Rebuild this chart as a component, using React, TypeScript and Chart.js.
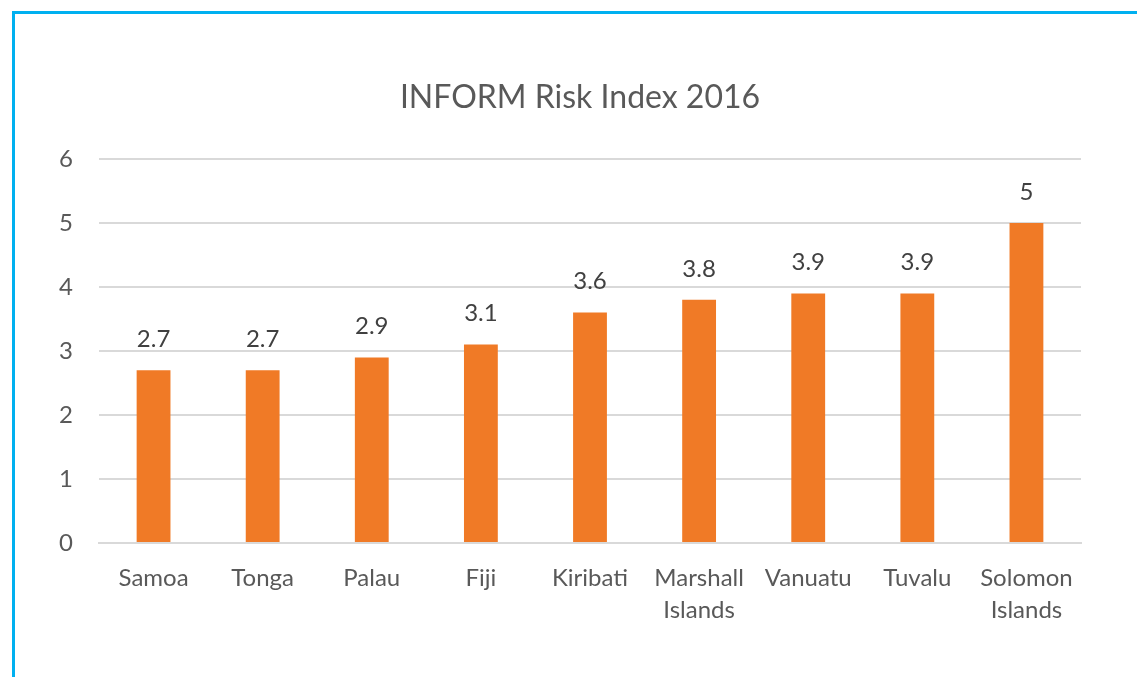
import React, { useEffect, useRef } from "react";
import { Chart, registerables } from "chart.js";

Chart.register(...registerables);

const categories: (string | string[])[] = [
  "Samoa",
  "Tonga",
  "Palau",
  "Fiji",
  "Kiribati",
  ["Marshall", "Islands"],
  "Vanuatu",
  "Tuvalu",
  ["Solomon", "Islands"],
];
const riskValues = [2.7, 2.7, 2.9, 3.1, 3.6, 3.8, 3.9, 3.9, 5];
const yTicks = [0, 1, 2, 3, 4, 5, 6];
const chartTitle = "INFORM Risk Index 2016";

const FONT = "Lato, 'Open Sans', sans-serif";
const TEXT = "#595959";
const LABEL_TEXT = "#404040";

const titlePlugin = {
  id: "customTitle",
  afterDraw(chart: any) {
    const ctx = chart.ctx;
    ctx.save();
    ctx.font = `32px ${FONT}`;
    ctx.fillStyle = TEXT;
    ctx.textAlign = "center";
    ctx.textBaseline = "middle";
    ctx.fillText(chartTitle, 580, 98);
    ctx.restore();
  },
};

const valueLabels = {
  id: "valueLabels",
  afterDatasetsDraw(chart: any) {
    const ctx = chart.ctx;
    const meta = chart.getDatasetMeta(0);
    const data = chart.data.datasets[0].data;
    ctx.save();
    ctx.font = `24px ${FONT}`;
    ctx.fillStyle = LABEL_TEXT;
    ctx.textAlign = "center";
    ctx.textBaseline = "middle";
    meta.data.forEach((bar: any, i: number) => {
      ctx.fillText(String(data[i]), bar.x, bar.y - 31);
    });
    ctx.restore();
  },
};

export default function App() {
  const ref = useRef<HTMLCanvasElement>(null);
  useEffect(() => {
    if (!ref.current) return;
    const chart = new Chart(ref.current, {
      type: "bar",
      data: {
        labels: categories,
        datasets: [
          {
            data: riskValues,
            backgroundColor: "#F07A26",
            barPercentage: 0.31,
            categoryPercentage: 1,
          },
        ],
      },
      options: {
        animation: false,
        responsive: false,
        maintainAspectRatio: false,
        layout: { padding: { top: 159, left: 0, right: 56, bottom: 0 } },
        plugins: {
          legend: { display: false },
          title: { display: false },
          tooltip: { enabled: false },
        },
        scales: {
          x: {
            grid: { display: false, drawTicks: false },
            border: { color: "#D9D9D9", width: 2 },
            ticks: {
              color: TEXT,
              font: { family: FONT, size: 24, lineHeight: 1.3 },
              padding: 20,
              maxRotation: 0,
              autoSkip: false,
            },
            afterFit(scale: any) {
              scale.height = 134;
            },
          },
          y: {
            min: 0,
            max: 6,
            afterBuildTicks(scale: any) {
              scale.ticks = yTicks.map((v) => ({ value: v }));
            },
            grid: { color: "#D9D9D9", lineWidth: 2, drawTicks: false },
            border: { display: false },
            ticks: {
              color: TEXT,
              font: { family: FONT, size: 24 },
              padding: 26,
            },
            afterFit(scale: any) {
              scale.width = 99;
            },
          },
        },
      },
      plugins: [titlePlugin, valueLabels],
    });
    return () => chart.destroy();
  }, []);

  return (
    <div style={{ position: "fixed", left: 0, top: 0, width: 1137, height: 677, background: "#fff", overflow: "hidden" }}>
      <div
        style={{
          position: "absolute",
          left: 12,
          top: 11,
          width: 1200,
          height: 800,
          borderLeft: "3px solid #00B0F0",
          borderTop: "3px solid #00B0F0",
        }}
      />
      <canvas ref={ref} width={1137} height={677} style={{ position: "absolute", left: 0, top: 0 }} />
    </div>
  );
}
